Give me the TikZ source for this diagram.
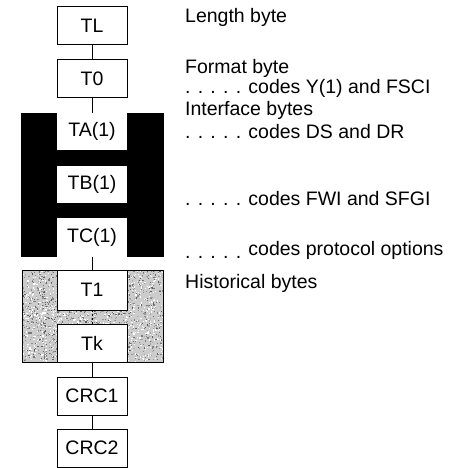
\documentclass[tikz,border=0pt]{standalone}
\usepackage{fontspec}
\setmainfont{Liberation Sans}
\begin{document}
\begin{tikzpicture}[x=1pt,y=-1pt,
  every node/.style={font=\fontsize{19.5}{23}\selectfont},
  bytebox/.style={draw=black,line width=0.8pt,fill=white,minimum width=70pt,
    minimum height=38pt,inner sep=0pt},
  plainbox/.style={fill=white,minimum width=70pt,minimum height=38pt,inner sep=0pt},
  link/.style={line width=0.8pt},
  note/.style={anchor=base west,inner sep=0pt}]
\useasboundingbox (0,0) rectangle (448,468);

% interface byte group (black)
\fill[black] (21,113) rectangle (164,257);

% historical byte group: stippled grey
\fill[black!20] (22,270) rectangle (163,362);
\pgfmathsetseed{7}
\foreach \i in {1,...,1400}{
  \pgfmathsetmacro\px{22+140*rnd}
  \pgfmathsetmacro\py{270+91*rnd}
  \pgfmathsetmacro\pk{30+35*rnd}
  \fill[black!\pk] (\px,\py) rectangle +(1.2,1.2);
}
\foreach \i in {1,...,900}{
  \pgfmathsetmacro\px{22+140*rnd}
  \pgfmathsetmacro\py{270+91*rnd}
  \fill[white] (\px,\py) rectangle +(1.2,1.2);
}
\draw[black,line width=1pt] (22,270) rectangle (163,362);

% byte boxes
\node[bytebox]  (tl)   at (92,25.5)  {TL};
\node[bytebox]  (t0)   at (92,78.5)  {T0};
\node[plainbox,minimum height=37pt] (ta) at (92,131.5) {TA(1)};
\node[plainbox,minimum height=37pt] (tb) at (92,184.5) {TB(1)};
\node[plainbox,minimum height=39pt] (tc) at (92,237.5) {TC(1)};
\node[bytebox,minimum height=40pt] (t1) at (92,290) {T1};
\node[bytebox]  (tk)   at (92,343)   {Tk};
\node[bytebox]  (crc1) at (92,396)   {CRC1};
\node[bytebox]  (crc2) at (92,448)   {CRC2};

\coordinate (gtop) at (92,113);
\draw[link] (tl) -- (t0);
\draw[link] (t0) -- (gtop);
\draw[link] (tc) -- (t1);
\draw[link,dashed,dash pattern=on 2pt off 2pt] (t1) -- (tk);
\draw[link] (tk) -- (crc1);
\draw[link] (crc1) -- (crc2);

% descriptions
\node[note] (n1) at (185,23)  {Length byte};
\node[note] (n2) at (185,74)  {Format byte};
\node[note] (n3) at (185,94)  {. . . . . codes Y(1) and FSCI};
\node[note] (n4) at (185,116) {Interface bytes};
\node[note] (n5) at (185,139) {. . . . . codes DS and DR};
\node[note] (n6) at (185,205) {. . . . . codes FWI and SFGI};
\node[note] (n7) at (185,258) {. . . . . \raisebox{3pt}{codes protocol options}};
\node[note] (n8) at (185,288) {Historical bytes};
\end{tikzpicture}
\end{document}
